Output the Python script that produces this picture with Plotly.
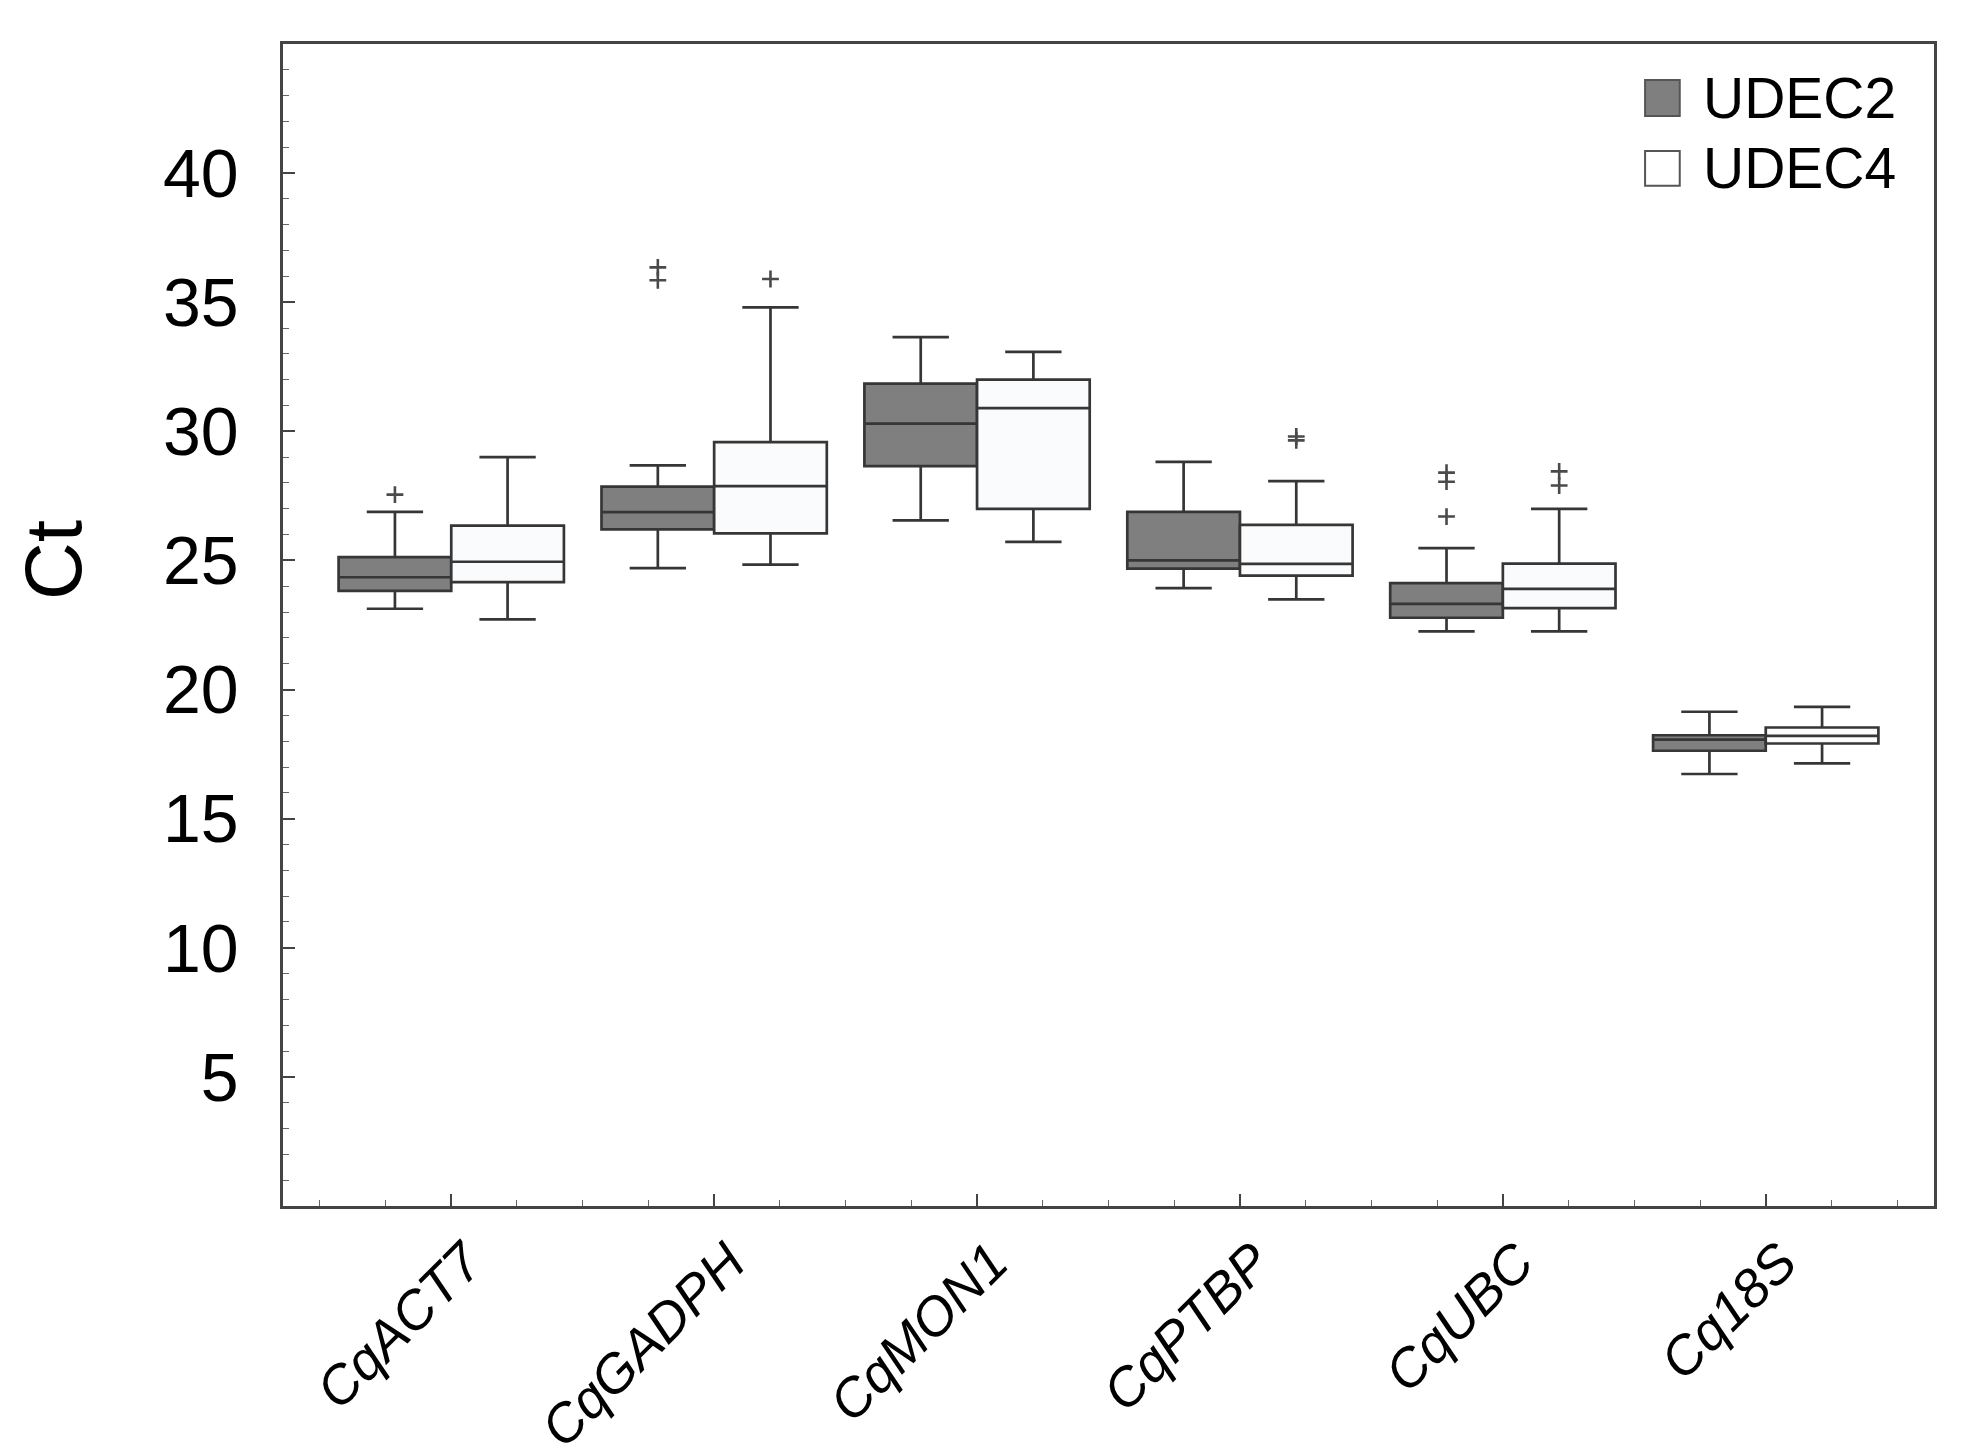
import plotly.graph_objects as go

genes = ["CqACT7", "CqGADPH", "CqMON1", "CqPTBP", "CqUBC", "Cq18S"]
gene_pos = [0, 1, 2, 3, 4, 5]

# UDEC2 statistics
u2_lower = [23.13, 24.70, 26.55, 23.93, 22.25, 16.73]
u2_q1 = [23.82, 26.20, 28.65, 24.68, 22.78, 17.63]
u2_median = [24.35, 26.87, 30.30, 25.00, 23.32, 18.06]
u2_q3 = [25.13, 27.86, 31.85, 26.88, 24.12, 18.23]
u2_upper = [26.88, 28.68, 33.65, 28.82, 25.48, 19.14]
u2_outliers = [[27.55], [36.35, 35.85], [], [], [28.40, 28.05, 26.70], []]

# UDEC4 statistics
u4_lower = [22.72, 24.84, 25.72, 23.49, 22.25, 17.14]
u4_q1 = [24.16, 26.05, 27.00, 24.41, 23.15, 17.91]
u4_median = [24.95, 27.88, 30.90, 24.87, 23.90, 18.21]
u4_q3 = [26.35, 29.58, 32.00, 26.38, 24.88, 18.53]
u4_upper = [29.00, 34.80, 33.08, 28.07, 27.00, 19.33]
u4_outliers = [[], [35.90], [], [29.80, 29.65], [28.45, 27.90], []]

y_ticks = [5, 10, 15, 20, 25, 30, 35, 40]

FONT = "Liberation Sans, Arial, Helvetica, sans-serif"
EDGE = "#363636"
DARK = "#7f7f7f"
LIGHT = "#fafbfd"
BOXGAP = 0.143
HALF = (1 - BOXGAP) / 4  # centre offset of each box within its gene group

fig = go.Figure()

def add_box(name, fill, lower, q1, med, q3, upper, outl, side):
    fig.add_trace(go.Box(
        name=name,
        x=gene_pos,
        lowerfence=lower, q1=q1, median=med, q3=q3, upperfence=upper,
        fillcolor=fill,
        line=dict(color=EDGE, width=2.7),
        whiskerwidth=0.5,
        showlegend=False,
        hoverinfo="skip",
        offsetgroup=name,
    ))
    ox, oy = [], []
    for p, vals in zip(gene_pos, outl):
        for v in vals:
            ox.append(p + side * HALF)
            oy.append(v)
    fig.add_trace(go.Scatter(
        x=ox, y=oy, mode="markers", name=name + " outliers",
        marker=dict(symbol="cross-thin", size=12, color="#4a4a4a",
                    line=dict(width=2.6, color="#4a4a4a")),
        showlegend=False, hoverinfo="skip",
    ))

add_box("UDEC2", DARK, u2_lower, u2_q1, u2_median, u2_q3, u2_upper, u2_outliers, -1)
add_box("UDEC4", LIGHT, u4_lower, u4_q1, u4_median, u4_q3, u4_upper, u4_outliers, 1)

# custom legend (large square swatches)
legend_items = [("UDEC2", DARK, 0.969, 0.938), ("UDEC4", "#ffffff", 0.908, 0.878)]
for label, col, ytop, ybot in legend_items:
    fig.add_shape(type="rect", xref="paper", yref="paper",
                  x0=0.825, x1=0.846, y0=ybot, y1=ytop,
                  fillcolor=col, line=dict(color="#555555", width=2))
    fig.add_annotation(xref="paper", yref="paper", x=0.859, y=(ytop + ybot) / 2,
                       text=label, showarrow=False, xanchor="left", yanchor="middle",
                       font=dict(family=FONT, size=57, color="black"))

# y-axis title placed as in the reference
fig.add_annotation(xref="paper", yref="y", x=-0.139, y=25, text="Ct",
                   textangle=-90, showarrow=False, xanchor="center", yanchor="middle",
                   font=dict(family=FONT, size=80, color="black"))

fig.update_layout(
    width=1963, height=1455,
    margin=dict(l=275, r=37, t=36, b=257),
    paper_bgcolor="white", plot_bgcolor="white",
    boxmode="group", boxgap=BOXGAP, boxgroupgap=0.0,
    font=dict(family=FONT, color="black"),
)

fig.update_xaxes(
    range=[-0.64, 5.64],
    tickmode="array", tickvals=gene_pos, ticktext=genes,
    tickangle=-45,
    ticklabelshift=15,
    tickfont=dict(family=FONT, size=54, color="black", style="italic"),
    ticks="inside", ticklen=12, tickwidth=1.5, tickcolor="#444444",
    minor=dict(dtick=0.25, tick0=0, ticks="inside", ticklen=6, tickwidth=1.2, tickcolor="#666666"),
    showline=True, linecolor="#444444", linewidth=2.5, mirror=True,
    showgrid=False, zeroline=False, automargin=False,
)

fig.update_yaxes(
    range=[0, 45],
    tickmode="array", tickvals=y_ticks,
    tickfont=dict(family=FONT, size=68, color="black"),
    ticks="inside", ticklen=12, tickwidth=1.5, tickcolor="#444444",
    ticklabelstandoff=28,
    minor=dict(dtick=1, tick0=0, ticks="inside", ticklen=6, tickwidth=1.2, tickcolor="#666666"),
    showline=True, linecolor="#444444", linewidth=2.5, mirror=True,
    showgrid=False, zeroline=False, automargin=False,
)

fig.write_html("out.html")
